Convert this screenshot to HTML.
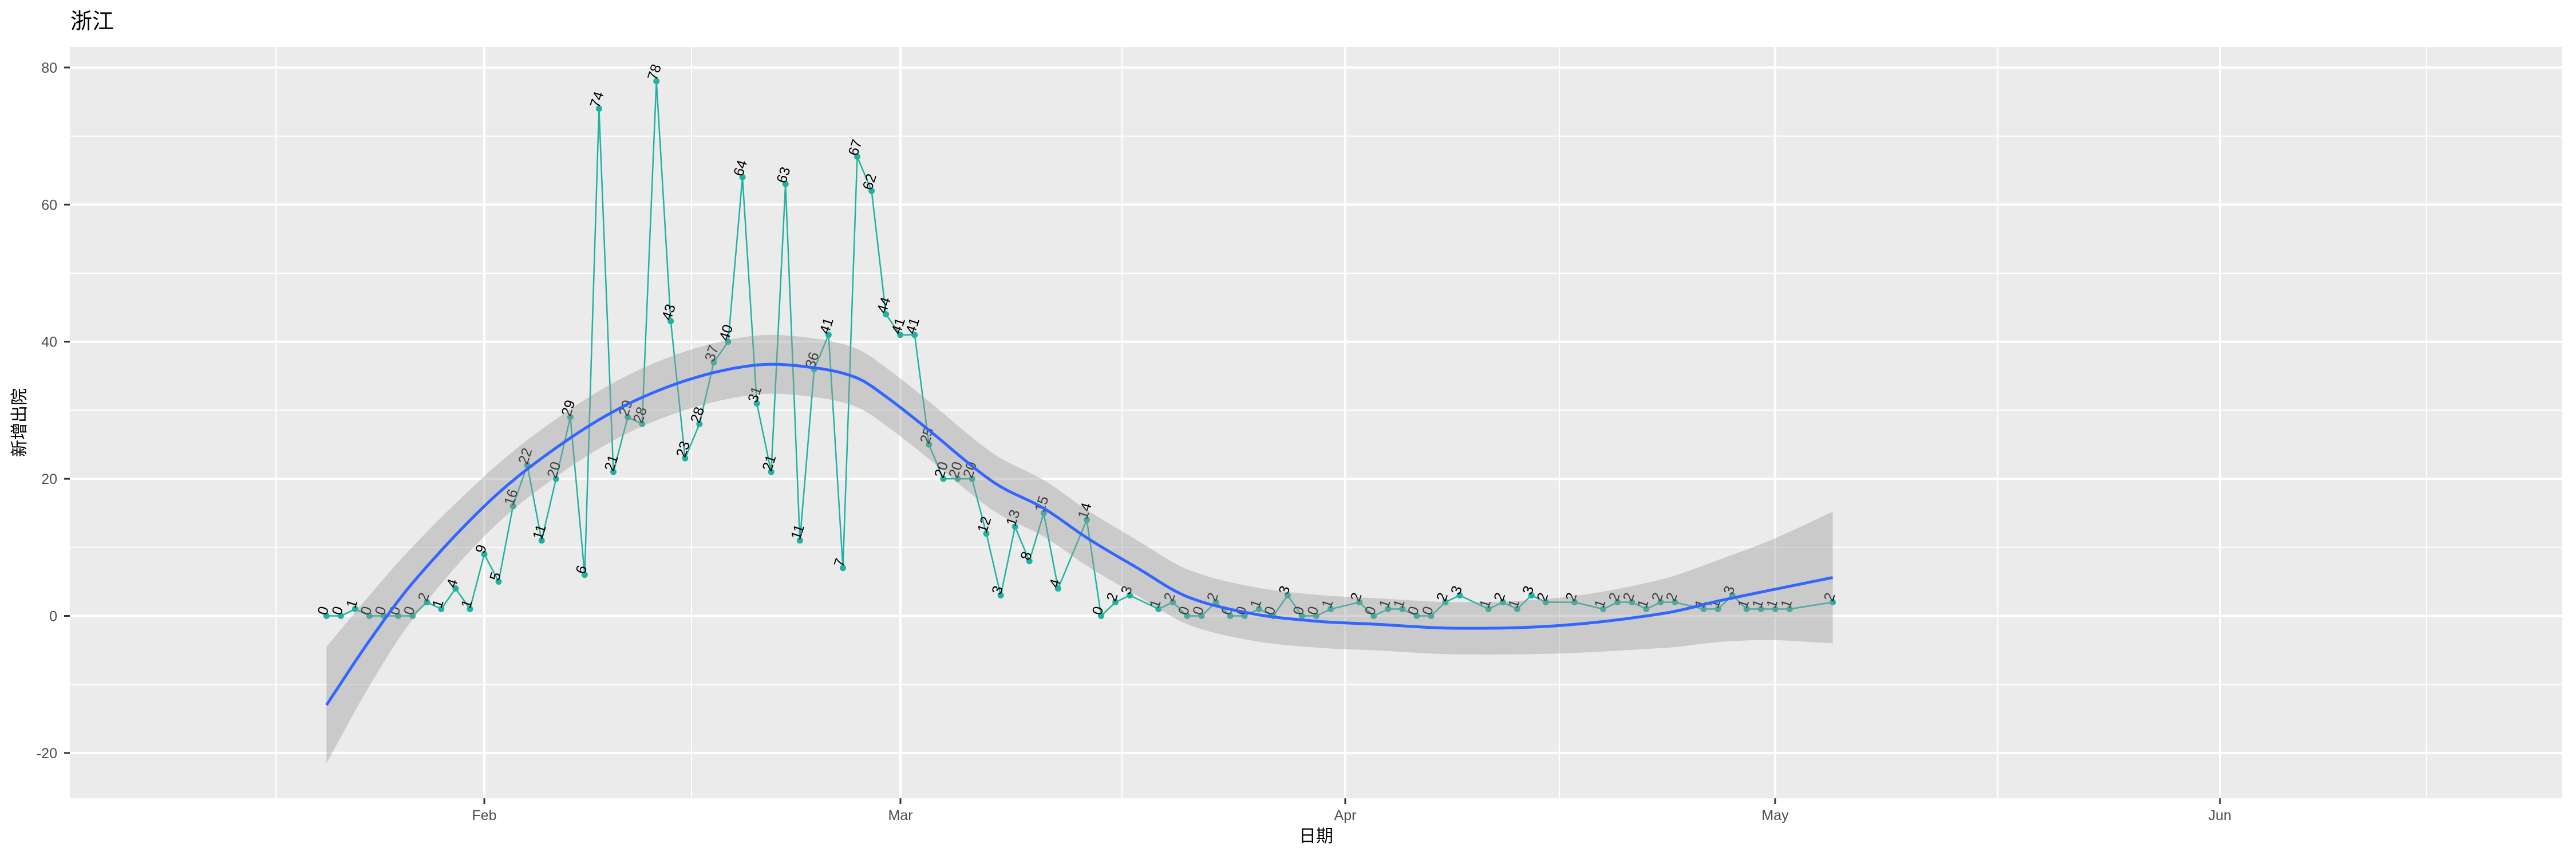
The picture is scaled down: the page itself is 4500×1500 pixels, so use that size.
<!DOCTYPE html>
<html><head><meta charset="utf-8"><style>
html,body{margin:0;padding:0;background:#fff;}
svg{display:block;}
</style></head><body>
<svg id="s" width="4500" height="1500" xmlns="http://www.w3.org/2000/svg" font-family="Liberation Sans, Noto Sans CJK SC, sans-serif"></svg>
<script>
const s=document.getElementById('s');
let h='';
const L=122,R=4476,T=82,B=1394;
const X=d=>570.3+d*25.06, Y=v=>1075.5-v*11.97;
h+=`<rect x="${L}" y="${T}" width="${R-L}" height="${B-T}" fill="#EBEBEB"/>`;
[482,1208,1960,2724,3490,4239].forEach(x=>h+=`<line x1="${x}" x2="${x}" y1="${T}" y2="${B}" stroke="#fff" stroke-width="2"/>`);
[-10,10,30,50,70].forEach(v=>h+=`<line x1="${L}" x2="${R}" y1="${Y(v)}" y2="${Y(v)}" stroke="#fff" stroke-width="2"/>`);
const mx=[[846,'Feb'],[1573,'Mar'],[2350,'Apr'],[3101,'May'],[3878,'Jun']];
mx.forEach(([x,t])=>{h+=`<line x1="${x}" x2="${x}" y1="${T}" y2="${B}" stroke="#fff" stroke-width="4"/>`;
h+=`<line x1="${x}" x2="${x}" y1="${B}" y2="${B+10}" stroke="#333" stroke-width="3"/>`;
h+=`<text x="${x}" y="${B+38}" font-size="25" fill="#4D4D4D" text-anchor="middle">${t}</text>`;});
[-20,0,20,40,60,80].forEach(v=>{const y=Y(v);h+=`<line x1="${L}" x2="${R}" y1="${y}" y2="${y}" stroke="#fff" stroke-width="4"/>`;
h+=`<line x1="${L-10}" x2="${L}" y1="${y}" y2="${y}" stroke="#333" stroke-width="3"/>`;
h+=`<text x="${L-22}" y="${y+9}" font-size="25" fill="#4D4D4D" text-anchor="end">${v}</text>`;});
const C=[[0,-13],[3,-3.6],[6,4.8],[11,16],[15,23],[20,29.8],[25,34.3],[30,36.6],[34,36.2],[37,34.7],[39,32],[41.7,27.6],[46.5,19.5],[50,15.7],[53,11.4],[56.6,6.9],[60,2.8],[64.6,0.3],[69.2,-0.8],[73,-1.2],[78.7,-1.8],[86,-1.4],[93.3,0.4],[97.3,2.3],[105,5.6]];
const HW=[[0,8.5],[3,6.6],[6,5.3],[12,4.3],[30,4.3],[60,4],[75,3.8],[85,4],[93,5],[100,7],[105,9.6]];
function interp(P,d){for(let i=0;i<P.length-1;i++){if(d<=P[i+1][0]){const p0=P[Math.max(i-1,0)],p1=P[i],p2=P[i+1],p3=P[Math.min(i+2,P.length-1)];
const t=(d-p1[0])/(p2[0]-p1[0]);const m1=(p2[1]-p0[1])/(p2[0]-p0[0]||1)*(p2[0]-p1[0]);const m2=(p3[1]-p1[1])/(p3[0]-p1[0]||1)*(p2[0]-p1[0]);
const t2=t*t,t3=t2*t;return (2*t3-3*t2+1)*p1[1]+(t3-2*t2+t)*m1+(-2*t3+3*t2)*p2[1]+(t3-t2)*m2;}}return P[P.length-1][1];}
let up=[],lo=[],mid=[];
for(let d=0;d<=105.001;d+=0.5){const c=interp(C,d),w=interp(HW,d);mid.push(`${X(d).toFixed(1)},${Y(c).toFixed(1)}`);up.push(`${X(d).toFixed(1)},${Y(c+w).toFixed(1)}`);lo.push(`${X(d).toFixed(1)},${Y(c-w).toFixed(1)}`);}
const band=`<polygon points="${up.join(' ')} ${lo.reverse().join(' ')}" fill="#999" fill-opacity="0.4"/>`;
const D=[];
[0,0,1,0,0,0,0,2,1,4,1,9,5,16,22,11,20,29,6,74,21,29,28,78,43,23,28,37,40,64,31,21,63,11,36,41,7,67,62,44,41,41,25,20,20,20,12,3,13,8,15,4].forEach((v,i)=>D.push([i,v]));
[[53,14],[54,0],[55,2],[56,3],[58,1],[59,2],[60,0],[61,0],[62,2],[63,0],[64,0],[65,1],[66,0],[67,3],[68,0],[69,0],[70,1],[72,2],[73,0],[74,1],[75,1],[76,0],[77,0],[78,2],[79,3],[81,1],[82,2],[83,1],[84,3],[85,2],[87,2],[89,1],[90,2],[91,2],[92,1],[93,2],[94,2],[96,1],[97,1],[98,3],[99,1],[100,1],[101,1],[102,1],[105,2]].forEach(p=>D.push(p));
let pts=D.map(([d,v])=>`${X(d).toFixed(1)},${Y(v).toFixed(1)}`).join(' ');
h+=`<polyline points="${pts}" fill="none" stroke="#20B2A0" stroke-width="2.5"/>`;
D.forEach(([d,v])=>h+=`<circle cx="${X(d)}" cy="${Y(v)}" r="5.5" fill="#20B2A0"/>`);
D.forEach(([d,v])=>h+=`<text transform="translate(${X(d).toFixed(1)},${Y(v).toFixed(1)}) rotate(-72)" font-size="25" fill="#000">${v}</text>`);
h+=band;
h+=`<polyline points="${mid.join(' ')}" fill="none" stroke="#3366FF" stroke-width="5"/>`;
h+=`<text x="123" y="50" font-size="38" fill="#000">浙江</text>`;
h+=`<text x="2299" y="1470" font-size="30" fill="#000" text-anchor="middle">日期</text>`;
h+=`<text transform="translate(44,738) rotate(-90)" font-size="30" fill="#000" text-anchor="middle">新增出院</text>`;
s.innerHTML=h;
</script>
</body></html>
